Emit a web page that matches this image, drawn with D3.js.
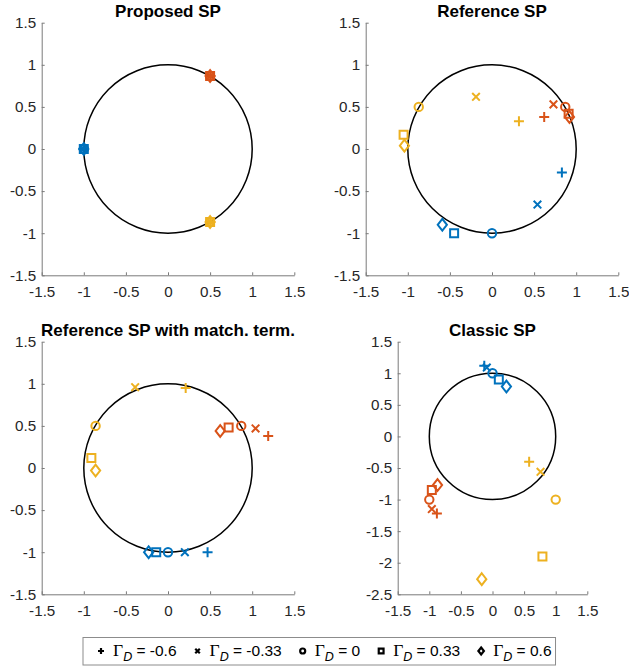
<!DOCTYPE html>
<html>
<head>
<meta charset="utf-8">
<script src="https://cdn.jsdelivr.net/npm/d3@7"></script>
<style>
  body { margin: 0; background: #fff; }
  svg { display: block; }
</style>
</head>
<body>
<script>
// legend / series definitions
const gammaLabels = ['-0.6', '-0.33', '0', '0.33', '0.6'];
const markerKinds = ['plus', 'cross', 'circle', 'square', 'diamond'];
const seriesColors = ['#0072BD', '#D95319', '#EDB120'];

const ticksStd = [-1.5, -1, -0.5, 0, 0.5, 1, 1.5];
const ticksClassicY = [-2.5, -2, -1.5, -1, -0.5, 0, 0.5, 1, 1.5];

// points in gamma order: -0.6, -0.33, 0, 0.33, 0.6
const proposedBlue   = [[-1, 0], [-1, 0], [-1, 0], [-1, 0], [-1, 0]];
const proposedOrange = [[0.5, 0.866], [0.5, 0.866], [0.5, 0.866], [0.5, 0.866], [0.5, 0.866]];
const proposedYellow = [[0.5, -0.866], [0.5, -0.866], [0.5, -0.866], [0.5, -0.866], [0.5, -0.866]];

const referenceBlue   = [[0.83, -0.28], [0.54, -0.66], [0, -1], [-0.45, -1], [-0.59, -0.9]];
const referenceOrange = [[0.62, 0.38], [0.73, 0.53], [0.87, 0.5], [0.91, 0.42], [0.92, 0.38]];
const referenceYellow = [[0.32, 0.33], [-0.19, 0.62], [-0.87, 0.5], [-1.05, 0.17], [-1.04, 0.04]];

const matchedBlue   = [[0.47, -1], [0.2, -1], [0, -1], [-0.14, -1], [-0.23, -1]];
const matchedOrange = [[1.19, 0.38], [1.04, 0.47], [0.87, 0.5], [0.72, 0.48], [0.62, 0.44]];
const matchedYellow = [[0.21, 0.95], [-0.39, 0.96], [-0.86, 0.5], [-0.91, 0.12], [-0.86, -0.03]];

const classicBlue   = [[-0.13, 1.12], [-0.09, 1.09], [0, 1], [0.1, 0.9], [0.22, 0.79]];
const classicOrange = [[-0.88, -1.22], [-0.96, -1.15], [-1, -1], [-0.96, -0.85], [-0.87, -0.77]];
const classicYellow = [[0.58, -0.4], [0.76, -0.56], [1, -1], [0.79, -1.9], [-0.17, -2.26]];

const SANS = '"Liberation Sans", Arial, sans-serif';

const panels = [
  { title: 'Proposed SP', series: [proposedBlue, proposedOrange, proposedYellow],
    yDomain: [-1.5, 1.5], yTicks: ticksStd, left: 41.7, right: 294.3, top: 22.7, bottom: 275.3 },
  { title: 'Reference SP', series: [referenceBlue, referenceOrange, referenceYellow],
    yDomain: [-1.5, 1.5], yTicks: ticksStd, left: 365.7, right: 618.3, top: 22.7, bottom: 275.3 },
  { title: 'Reference SP with match. term.', series: [matchedBlue, matchedOrange, matchedYellow],
    yDomain: [-1.5, 1.5], yTicks: ticksStd, left: 41.7, right: 294.3, top: 341.7, bottom: 594.3 },
  { title: 'Classic SP', series: [classicBlue, classicOrange, classicYellow],
    yDomain: [-2.5, 1.5], yTicks: ticksClassicY, left: 397.7, right: 587.3, top: 341.7, bottom: 594.3 }
];

const svg = d3.select('body')
  .append('svg')
  .attr('width', 629)
  .attr('height', 669);

var markerPath = function(kind, k) {
  switch (kind) {
    case 'plus': { const s = 5 * k; return `M${-s},0H${s}M0,${-s}V${s}`; }
    case 'cross': { const c = 3.8 * k; return `M${-c},${-c}L${c},${c}M${-c},${c}L${c},${-c}`; }
    case 'circle': { const r = 4.2 * k; return `M${r},0A${r},${r},0,1,1,${-r},0A${r},${r},0,1,1,${r},0Z`; }
    case 'square': { const h = 4 * k; return `M${-h},${-h}H${h}V${h}H${-h}Z`; }
    default: { const w = 4.6 * k, h = 5.9 * k; return `M0,${-h}L${w},0L0,${h}L${-w},0Z`; }
  }
};

panels.forEach(p => {
  const x = d3.scaleLinear().domain([-1.5, 1.5]).range([p.left, p.right]);
  const y = d3.scaleLinear().domain(p.yDomain).range([p.bottom, p.top]);
  const g = svg.append('g');

  const xAxis = g.append('g')
    .attr('transform', `translate(0,${p.bottom})`)
    .call(d3.axisBottom(x).tickValues(ticksStd).tickFormat(d => String(d))
      .tickSizeInner(-3).tickSizeOuter(0).tickPadding(10.5));
  const yAxis = g.append('g')
    .attr('transform', `translate(${p.left},0)`)
    .call(d3.axisLeft(y).tickValues(p.yTicks).tickFormat(d => String(d))
      .tickSizeInner(-3).tickSizeOuter(0).tickPadding(5.5));

  [xAxis, yAxis].forEach(a => {
    a.attr('font-family', SANS).attr('font-size', 15.2);
    a.selectAll('path, line').attr('stroke', '#7a7a7a');
    a.selectAll('text').attr('fill', '#262626');
  });

  // unit circle
  g.append('ellipse')
    .attr('cx', x(0)).attr('cy', y(0))
    .attr('rx', x(1) - x(0)).attr('ry', y(0) - y(1))
    .attr('fill', 'none').attr('stroke', '#000').attr('stroke-width', 1.5);

  p.series.forEach((pts, si) => {
    g.append('g').selectAll('path')
      .data(pts)
      .enter()
      .append('path')
      .attr('transform', d => `translate(${x(d[0])},${y(d[1])})`)
      .attr('d', (d, i) => markerPath(markerKinds[i], 1))
      .attr('fill', 'none')
      .attr('stroke', seriesColors[si])
      .attr('stroke-width', 2);
  });

  g.append('text')
    .attr('x', (p.left + p.right) / 2)
    .attr('y', p.top - 5.5)
    .attr('text-anchor', 'middle')
    .attr('font-family', SANS)
    .attr('font-size', 17)
    .attr('font-weight', 'bold')
    .attr('fill', '#000')
    .text(p.title);
});

// legend
const legend = svg.append('g');
const legendBox = legend.append('rect')
  .attr('y', 637.5).attr('height', 27.5)
  .attr('fill', '#fff').attr('stroke', '#8c8c8c').attr('stroke-width', 1);

let cursor = 101;
gammaLabels.forEach((lab, i) => {
  legend.append('path')
    .attr('transform', `translate(${cursor},651)`)
    .attr('d', markerPath(markerKinds[i], 0.6))
    .attr('fill', 'none').attr('stroke', '#000').attr('stroke-width', 2.2);
  const t = legend.append('text')
    .attr('x', cursor + 12).attr('y', 656)
    .attr('font-family', SANS).attr('font-size', 15.5).attr('fill', '#000');
  t.append('tspan').attr('font-family', '"Liberation Serif", "Times New Roman", serif')
    .attr('font-size', 17.5).text('\u0393');
  t.append('tspan').attr('dy', 5).attr('font-style', 'italic').attr('font-size', 12.5).text('D');
  t.append('tspan').attr('dy', -5).text(' = ' + lab);
  cursor = cursor + 12 + t.node().getComputedTextLength() + 21;
});
legendBox.attr('x', 83).attr('width', cursor - 21 + 4 - 83);
</script>
</body>
</html>
